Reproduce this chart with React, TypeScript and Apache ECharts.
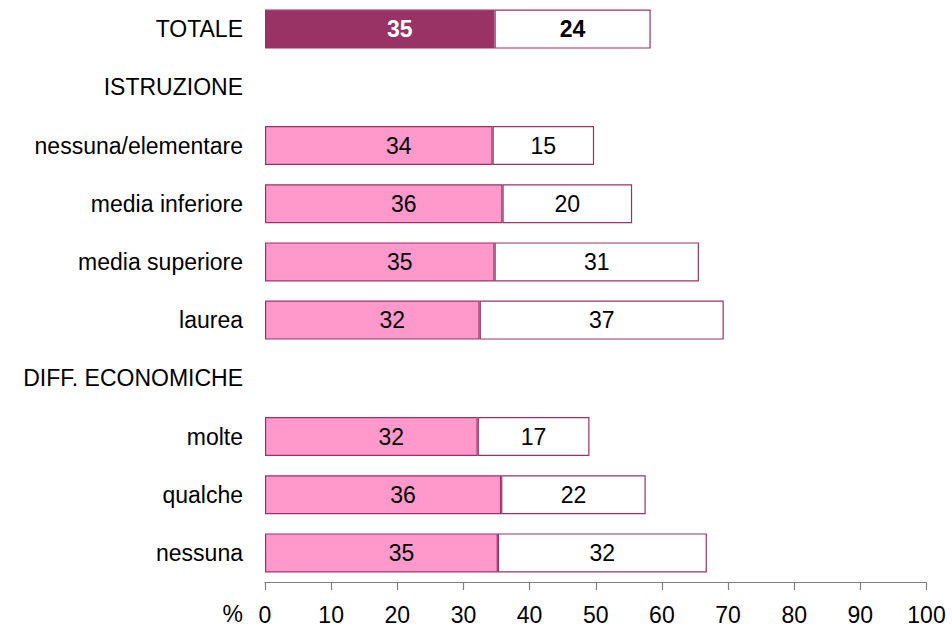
import React, { useEffect, useRef } from "react";
import * as echarts from "echarts";

const categories = [
  "TOTALE",
  "ISTRUZIONE",
  "nessuna/elementare",
  "media inferiore",
  "media superiore",
  "laurea",
  "DIFF. ECONOMICHE",
  "molte",
  "qualche",
  "nessuna",
];

// first segment (pink) and second segment (white); null = heading row
const firstValues: (number | null)[] = [34.7, null, 34.4, 35.9, 34.7, 32.45, null, 32.15, 35.7, 35.2];
const secondValues: (number | null)[] = [23.6, null, 15.35, 19.6, 30.9, 36.9, null, 16.9, 21.85, 31.6];

const xTicks = { min: 0, max: 100, interval: 10 };

const FONT = '"Liberation Sans", Arial, Helvetica, sans-serif';
const DARK = "#993366";
const PINK = "#FF99CC";

export default function App() {
  const ref = useRef<HTMLDivElement>(null);

  useEffect(() => {
    if (!ref.current) return;
    const chart = echarts.init(ref.current, null, { renderer: "svg" });

    const fmt = (p: any) => (p.value == null ? "" : String(Math.round(p.value)));

    const firstData = firstValues.map((v, i) =>
      i === 0
        ? {
            value: v,
            itemStyle: { color: DARK },
            label: { color: "#ffffff", fontWeight: "bold" },
          }
        : { value: v }
    );
    const secondData = secondValues.map((v, i) =>
      i === 0 ? { value: v, label: { fontWeight: "bold" } } : { value: v }
    );

    chart.setOption({
      animation: false,
      backgroundColor: "#ffffff",
      textStyle: { fontFamily: FONT },
      grid: { left: 265, right: 25.5, top: 0, height: 582, containLabel: false },
      xAxis: {
        type: "value",
        min: xTicks.min,
        max: xTicks.max,
        interval: xTicks.interval,
        axisLine: { show: true, lineStyle: { color: "#808080", width: 1.2 } },
        axisTick: { show: true, length: 8, lineStyle: { color: "#808080", width: 1.2 } },
        splitLine: { show: false },
        axisLabel: { color: "#000000", fontSize: 23, fontFamily: FONT, margin: 21 },
      },
      yAxis: {
        type: "category",
        inverse: true,
        data: categories,
        axisLine: { show: false },
        axisTick: { show: false },
        axisLabel: { color: "#000000", fontSize: 23, fontFamily: FONT, margin: 22 },
      },
      graphic: [
        {
          type: "text",
          x: 243,
          y: 614,
          style: {
            text: "%",
            fill: "#000000",
            font: `23px ${FONT}`,
            align: "right",
            verticalAlign: "middle",
          },
        },
      ],
      series: [
        {
          type: "bar",
          stack: "s",
          barWidth: 39,
          data: firstData,
          itemStyle: { color: PINK, borderColor: DARK, borderWidth: 1.2 },
          label: {
            show: true,
            position: "inside",
            offset: [20, 0],
            color: "#000000",
            fontSize: 23,
            fontFamily: FONT,
            formatter: fmt,
          },
        },
        {
          type: "bar",
          stack: "s",
          barWidth: 39,
          data: secondData,
          itemStyle: { color: "#ffffff", borderColor: DARK, borderWidth: 1.2 },
          label: {
            show: true,
            position: "inside",
            color: "#000000",
            fontSize: 23,
            fontFamily: FONT,
            formatter: fmt,
          },
        },
      ],
    });

    return () => chart.dispose();
  }, []);

  return (
    <div
      ref={ref}
      style={{ position: "fixed", left: 0, top: 0, width: 952, height: 628, background: "#fff" }}
    />
  );
}
